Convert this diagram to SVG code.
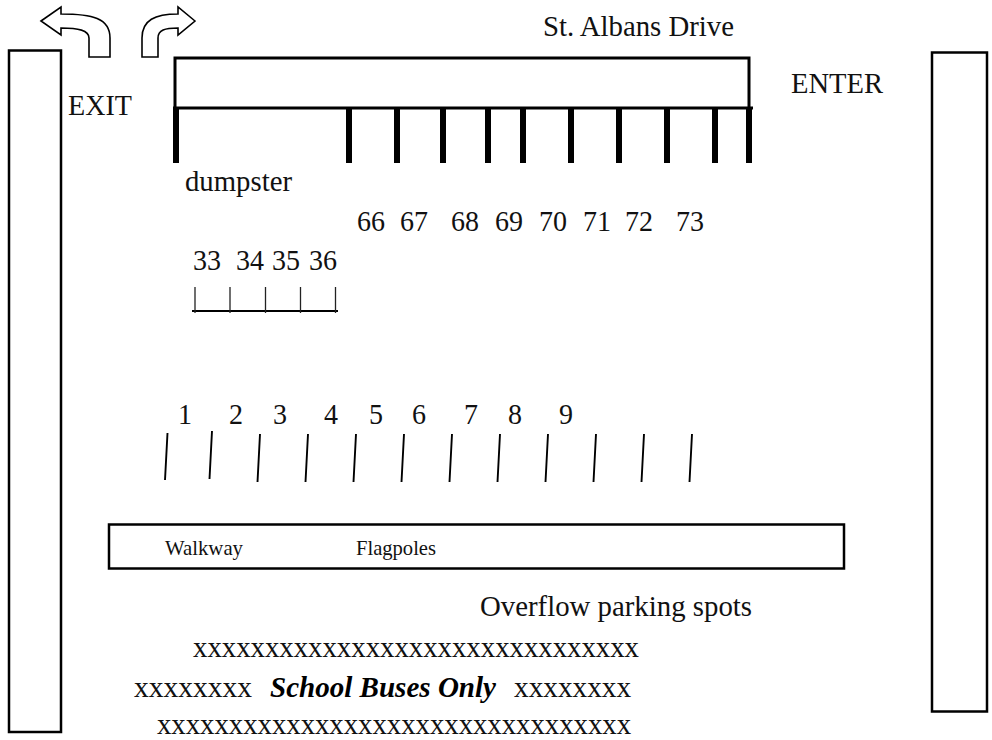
<svg xmlns="http://www.w3.org/2000/svg" width="992" height="740" viewBox="0 0 992 740">
<style>
text{font-family:"Liberation Serif","Times New Roman",serif;font-size:30px;fill:#111}
.s{font-size:21px}
.b{font-weight:bold;font-style:italic;fill:#000}
.box{fill:#fff;stroke:#000;stroke-width:2.5}
.arrow{fill:#fff;stroke:#000;stroke-width:1.6;stroke-linejoin:miter}
.post{stroke:#000;stroke-width:6}
.thin{stroke:#000;stroke-width:1.9}
.rule{stroke:#000;stroke-width:2.2}
.tick{stroke:#222;stroke-width:1.3}
</style>
<rect width="992" height="740" fill="#fff"/>
<g id="left-building"><rect class="box" x="9" y="50.500" width="52" height="681.500"/></g>
<g id="right-building"><rect class="box" x="932" y="52.500" width="55" height="659"/></g>
<g id="exit-arrow"><path class="arrow" d="M41 21L61 7V14C92 14 110 18 110 38V57H89V38C89 30 78 28 61 28V35Z"/></g>
<g id="enter-arrow"><path class="arrow" d="M195 21L178 7V14C155 14 142 20 142 38V57H158V38C158 30 165 28 178 28V35Z"/></g>
<g id="drive"><path d="M175 108V58H749V108" fill="none" stroke="#000" stroke-width="3"/><path d="M173 108H753" stroke="#000" stroke-width="3"/></g>
<g id="lot-connectors">
<path class="post" d="M176 108V163M349 108V163M397 108V163M443 108V163M488 108V163M523 108V163M571 108V163M619 108V163M667 108V163M715 108V163M749 108V163"/>
<path class="rule" d="M192 311H338"/>
<path class="tick" d="M195 287V313M230 287V313M265.500 287V313M300.500 287V313M335.500 287V313"/>
<path class="thin" d="M167.500 433L165 480M212 431L209.500 479M260 434L257.500 482M308 434L305.500 482M356 434L353.500 482M404 434L401.500 482M452 434L449.500 482M500 434L497.500 482M548 434L545.500 482M596 434L593.500 482M644 434L641.500 482M692 434L689.500 482"/>
</g>
<g id="walkway"><rect class="box" x="109" y="524.500" width="735" height="44"/>
<text class="s" x="165" y="555" textLength="78" lengthAdjust="spacingAndGlyphs">Walkway</text><text class="s" x="356" y="555" textLength="80" lengthAdjust="spacingAndGlyphs">Flagpoles</text></g>
<g id="labels" transform="translate(0 1)">
<text x="543" y="35" textLength="191" lengthAdjust="spacingAndGlyphs">St. Albans Drive</text>
<text x="791" y="92" textLength="92" lengthAdjust="spacingAndGlyphs">ENTER</text>
<text x="68" y="114" textLength="64" lengthAdjust="spacingAndGlyphs">EXIT</text>
<text x="185" y="190" textLength="107" lengthAdjust="spacingAndGlyphs">dumpster</text>
<text x="357" y="230" textLength="28" lengthAdjust="spacingAndGlyphs">66</text><text x="400" y="230" textLength="28" lengthAdjust="spacingAndGlyphs">67</text><text x="451" y="230" textLength="28" lengthAdjust="spacingAndGlyphs">68</text><text x="495" y="230" textLength="28" lengthAdjust="spacingAndGlyphs">69</text><text x="539" y="230" textLength="28" lengthAdjust="spacingAndGlyphs">70</text><text x="583" y="230" textLength="28" lengthAdjust="spacingAndGlyphs">71</text><text x="625" y="230" textLength="28" lengthAdjust="spacingAndGlyphs">72</text><text x="676" y="230" textLength="28" lengthAdjust="spacingAndGlyphs">73</text>
<text x="193" y="269" textLength="28" lengthAdjust="spacingAndGlyphs">33</text><text x="236" y="269" textLength="28" lengthAdjust="spacingAndGlyphs">34</text><text x="272" y="269" textLength="28" lengthAdjust="spacingAndGlyphs">35</text><text x="309" y="269" textLength="28" lengthAdjust="spacingAndGlyphs">36</text>
<text x="178" y="423" textLength="14" lengthAdjust="spacingAndGlyphs">1</text><text x="229" y="423" textLength="14" lengthAdjust="spacingAndGlyphs">2</text><text x="273" y="423" textLength="14" lengthAdjust="spacingAndGlyphs">3</text><text x="324" y="423" textLength="14" lengthAdjust="spacingAndGlyphs">4</text><text x="369" y="423" textLength="14" lengthAdjust="spacingAndGlyphs">5</text><text x="412" y="423" textLength="14" lengthAdjust="spacingAndGlyphs">6</text><text x="464" y="423" textLength="14" lengthAdjust="spacingAndGlyphs">7</text><text x="508" y="423" textLength="14" lengthAdjust="spacingAndGlyphs">8</text><text x="559" y="423" textLength="14" lengthAdjust="spacingAndGlyphs">9</text>
<text x="480" y="615" textLength="272" lengthAdjust="spacingAndGlyphs">Overflow parking spots</text>
<text x="193" y="656" textLength="446" lengthAdjust="spacingAndGlyphs">xxxxxxxxxxxxxxxxxxxxxxxxxxxxxxx</text>
<text x="134" y="696" textLength="118" lengthAdjust="spacingAndGlyphs">xxxxxxxx</text>
<text class="b" x="270" y="696" textLength="226" lengthAdjust="spacingAndGlyphs">School Buses Only</text>
<text x="514" y="696" textLength="117" lengthAdjust="spacingAndGlyphs">xxxxxxxx</text>
<text x="157" y="733" textLength="474" lengthAdjust="spacingAndGlyphs">xxxxxxxxxxxxxxxxxxxxxxxxxxxxxxxxx</text>
</g>
</svg>
